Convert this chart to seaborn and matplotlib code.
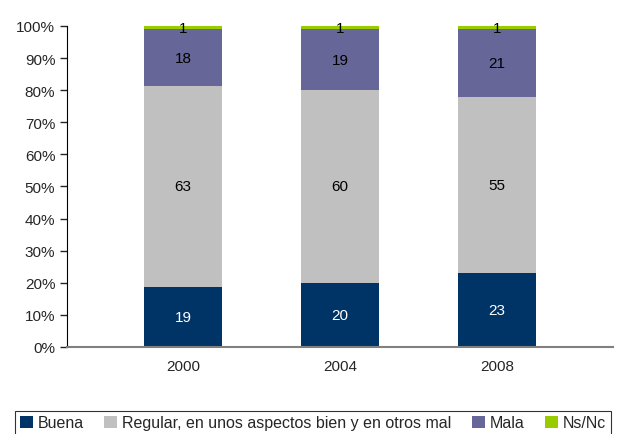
import numpy as np
import pandas as pd
import matplotlib
matplotlib.use("Agg")
import matplotlib.pyplot as plt
import seaborn as sns
from matplotlib.ticker import PercentFormatter

# data
years = ["2000", "2004", "2008"]
buena = [19, 20, 23]
regular = [63, 60, 55]
mala = [18, 19, 21]
nsnc = [1, 1, 1]

series = ["Buena", "Regular, en unos aspectos bien y en otros mal", "Mala", "Ns/Nc"]
colors = ["#003366", "#C0C0C0", "#666699", "#99CC00"]
text_colors = ["white", "black", "black", "black"]

sns.set_style("white")
plt.rcParams['font.family'] = ['Liberation Sans', 'DejaVu Sans']

df = pd.DataFrame({"Year": years, series[0]: buena, series[1]: regular,
                   series[2]: mala, series[3]: nsnc})
totals = df[series].sum(axis=1)
shares = df[series].div(totals, axis=0) * 100

fig = plt.figure(figsize=(6.27, 4.35), dpi=100)
ax = fig.add_axes([0.107, 0.2, 0.871, 0.738])

bottom = np.zeros(len(years))
for i, s in enumerate(series):
    sns.barplot(x=df["Year"], y=shares[s], bottom=bottom, color=colors[i],
                width=0.5, ax=ax, label=s, saturation=1, linewidth=0)
    for j in range(len(years)):
        ax.text(j, bottom[j] + shares[s][j] / 2, str(df[s][j]), ha="center",
                va="center", color=text_colors[i], fontsize=11)
    bottom = bottom + shares[s].values

ax.set_xlim(-0.74, 2.74)
ax.set_ylim(0, 100)
ax.set_yticks(range(0, 101, 10))
ax.yaxis.set_major_formatter(PercentFormatter(decimals=0))
ax.set_xlabel("")
ax.set_ylabel("")
ax.tick_params(axis="y", length=5, width=1, direction="out", left=True, labelsize=11)
ax.tick_params(axis="x", length=0, labelsize=11, pad=9)
for sp in ["top", "right"]:
    ax.spines[sp].set_visible(False)
ax.spines["left"].set_color("black")
ax.spines["bottom"].set_color("#808080")
ax.spines["bottom"].set_linewidth(1.5)

leg = ax.legend(loc="lower left", bbox_to_anchor=(-0.095, -0.275), ncol=4,
                frameon=True, fancybox=False, edgecolor="black", fontsize=11.5,
                handlelength=0.8, handleheight=0.8, handletextpad=0.3,
                columnspacing=1.3, borderpad=0.3, borderaxespad=0)
leg.get_frame().set_linewidth(0.8)

fig.savefig("out.png", dpi=100)
